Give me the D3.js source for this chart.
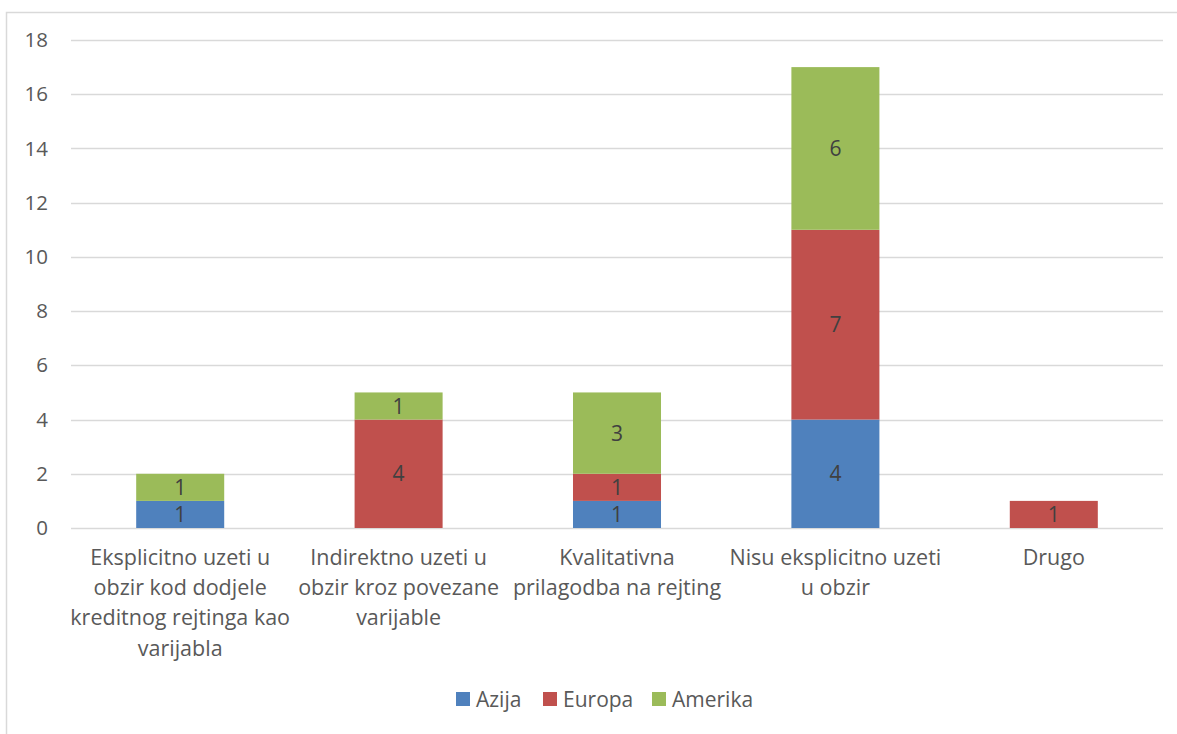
<!DOCTYPE html>
<html>
<head>
<meta charset="utf-8">
<script src="https://cdn.jsdelivr.net/npm/d3@7"></script>
<style>
  html, body { margin: 0; padding: 0; background: #fff; }
  svg { display: block; font-family: "Open Sans", sans-serif; }
</style>
</head>
<body>
<svg id="chart" width="1177" height="734"></svg>
<script>
const categories = [
  ["Eksplicitno uzeti u", "obzir kod dodjele", "kreditnog rejtinga kao", "varijabla"],
  ["Indirektno uzeti u", "obzir kroz povezane", "varijable"],
  ["Kvalitativna", "prilagodba na rejting"],
  ["Nisu eksplicitno uzeti", "u obzir"],
  ["Drugo"]
];
const seriesNames = ["Azija", "Europa", "Amerika"];
const azija   = [1, 0, 1, 4, 0];
const europa  = [0, 4, 1, 7, 1];
const amerika = [1, 1, 3, 6, 0];
const seriesColors = ["#4f81bd", "#c0504d", "#9bbb59"];
const yTicks = [0, 2, 4, 6, 8, 10, 12, 14, 16, 18];

const svg = d3.select("#chart");
const W = 1177, H = 734;
const margin = { left: 71, right: 14, top: 40, bottom: 206 };
const plotR = W - margin.right, plotB = H - margin.bottom;

// border
svg.append("rect").attr("x", 6.5).attr("y", 12.5).attr("width", 1200).attr("height", 800)
  .attr("fill", "none").attr("stroke", "#d9d9d9").attr("stroke-width", 1.5);

const idx = d3.range(categories.length);
const x = d3.scaleBand().domain(idx).range([margin.left, plotR])
  .paddingInner(0.597).paddingOuter(0.2985);
const y = d3.scaleLinear().domain([0, 18]).range([plotB, margin.top]);

// gridlines
svg.append("g").selectAll("line").data(yTicks).join("line")
  .attr("x1", margin.left).attr("x2", plotR)
  .attr("y1", d => Math.round(y(d)) + 0.5).attr("y2", d => Math.round(y(d)) + 0.5)
  .attr("stroke", "#d9d9d9").attr("stroke-width", 1.3);

// y axis labels
const yAxis = d3.axisLeft(y).tickValues(yTicks).tickSize(0).tickPadding(0);
const gy = svg.append("g").attr("transform", `translate(48,0)`).call(yAxis);
gy.select(".domain").remove();
gy.selectAll("text").attr("font-size", 20.5).attr("fill", "#595959")
  .attr("font-family", "Open Sans, sans-serif").attr("text-anchor", "end");

// stacked data
const table = idx.map(i => ({ i, Azija: azija[i], Europa: europa[i], Amerika: amerika[i] }));
const stack = d3.stack().keys(seriesNames)(table);

const layers = svg.append("g").selectAll("g").data(stack).join("g")
  .attr("fill", (d, k) => seriesColors[k]);
layers.selectAll("rect").data(d => d.filter(s => s[1] - s[0] > 0)).join("rect")
  .attr("x", d => x(d.data.i))
  .attr("width", x.bandwidth())
  .attr("y", d => y(d[1]))
  .attr("height", d => y(d[0]) - y(d[1]));

// data labels
layers.selectAll("text").data(d => d.filter(s => s[1] - s[0] > 0).map(s => ({ s, key: d.key }))).join("text")
  .attr("x", d => x(d.s.data.i) + x.bandwidth() / 2)
  .attr("y", d => (y(d.s[0]) + y(d.s[1])) / 2)
  .attr("dy", "0.36em")
  .attr("text-anchor", "middle")
  .attr("font-size", 21)
  .attr("fill", "#404040")
  .text(d => d.s[1] - d.s[0]);

// category labels
const xg = svg.append("g");
idx.forEach(i => {
  const t = xg.append("text")
    .attr("x", x(i) + x.bandwidth() / 2)
    .attr("y", 557)
    .attr("text-anchor", "middle")
    .attr("font-size", 21.5)
    .attr("fill", "#595959");
  categories[i].forEach((line, j) => {
    t.append("tspan").attr("x", x(i) + x.bandwidth() / 2)
      .attr("y", 557 + j * 30.3).attr("dy", "0.36em").text(line);
  });
});

// legend
const legendX = [456, 543, 652];
const lg = svg.append("g");
seriesNames.forEach((name, k) => {
  lg.append("rect").attr("x", legendX[k]).attr("y", 692).attr("width", 14).attr("height", 14)
    .attr("fill", seriesColors[k]);
  lg.append("text").attr("x", legendX[k] + 20).attr("y", 699).attr("dy", "0.36em")
    .attr("font-size", 21).attr("fill", "#595959").text(name);
});
</script>
</body>
</html>
